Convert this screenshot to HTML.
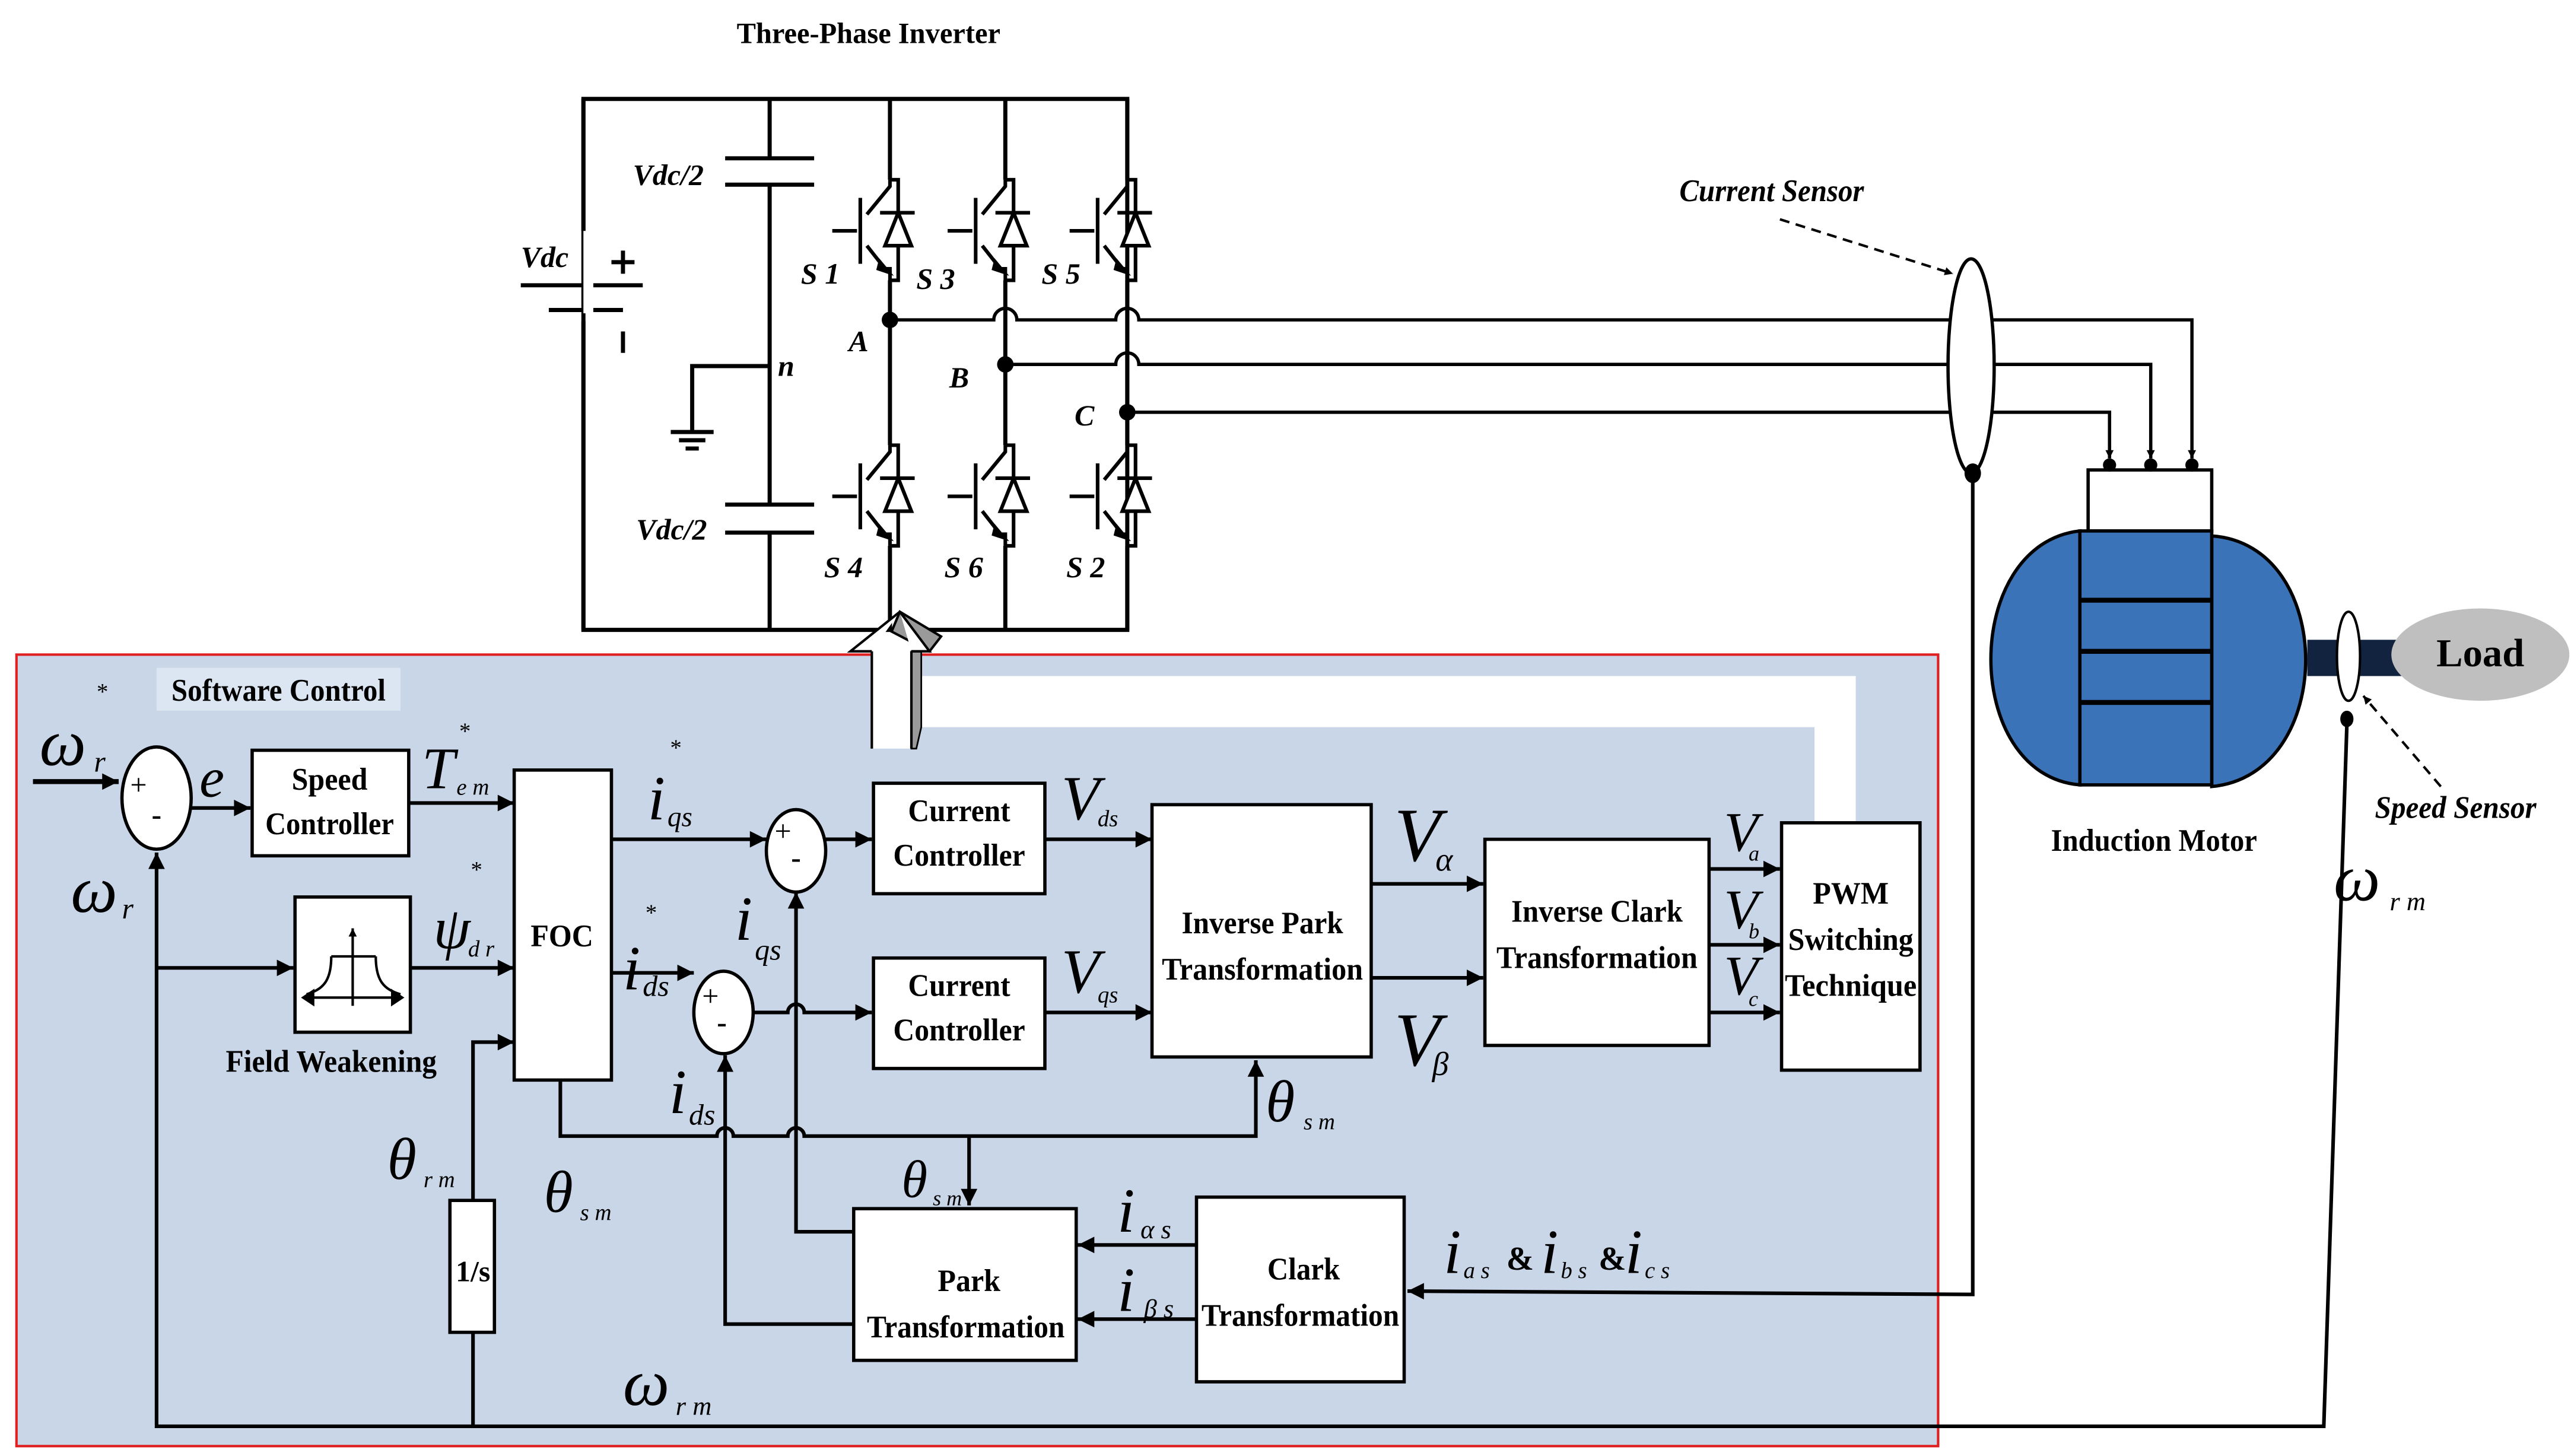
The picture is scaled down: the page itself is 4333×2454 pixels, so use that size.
<!DOCTYPE html>
<html><head><meta charset="utf-8"><style>
html,body{margin:0;padding:0;background:#fff;}
svg{display:block;}
text{font-family:"Liberation Serif",serif;fill:#000;}
.b{font-weight:bold;}
.i{font-style:italic;}
</style></head><body>
<svg width="4333" height="2454" viewBox="0 0 1560 883" preserveAspectRatio="none" xmlns="http://www.w3.org/2000/svg">
<defs>
<marker id="ar" viewBox="0 0 10 10" refX="10" refY="5" markerWidth="5" markerHeight="5" orient="auto" markerUnits="userSpaceOnUse"><path d="M0,0 L10,5 L0,10 z" fill="#000"/></marker>
<marker id="ah" viewBox="0 0 10 10" refX="10" refY="5" markerWidth="12" markerHeight="10" orient="auto" markerUnits="userSpaceOnUse"><path d="M0,0 L10,5 L0,10 z" fill="#000"/></marker>
<g id="sw" fill="none" stroke="#000" stroke-width="2.2">
<path d="M0,0 L0,4 L-14,21"/>
<path d="M-18,11 L-18,51"/>
<path d="M-35,31 L-20,31"/>
<path d="M-14,40 L-3,54 L0,54 L0,61"/>
<path d="M0,0 L5,0 L5,61 L0,61"/>
<path d="M-6,20 L15,20"/>
<path d="M5,20 L-3,40 L13,40 Z" fill="#fff"/>
<path d="M-6,50 L-1,56 L-7,54 Z" fill="#000"/>
</g>
</defs>

<!-- title -->
<text x="527" y="26" class="b" font-size="18" text-anchor="middle" textLength="160" lengthAdjust="spacingAndGlyphs">Three-Phase Inverter</text>

<!-- inverter frame -->
<g fill="none" stroke="#000" stroke-width="2.5">
<path d="M354,60 L684,60 L684,382 L354,382 Z"/>
<path d="M467,60 L467,96 M440,96 L494,96 M440,112 L494,112 M467,112 L467,306 M440,306 L494,306 M440,323 L494,323 M467,323 L467,382"/>
<path d="M420,262 L420,222 L467,222"/>
<path d="M407,262 L433,262 M412,267 L428,267 M416,272 L424,272"/>
<path d="M316,173 L390,173 M333,188 L378,188"/>
<path d="M378,152 L378,166 M371,159 L385,159 M378,201 L378,214"/>
<path d="M540,60 L540,109 M540,170 L540,270 M540,331 L540,382"/>
<path d="M610,60 L610,109 M610,170 L610,270 M610,331 L610,382"/>
<path d="M684,60 L684,109 M684,170 L684,270 M684,331 L684,382"/>
</g>
<rect x="354" y="140" width="6" height="50" fill="#fff"/>
<path d="M354,60 L354,140 M354,195 L354,382" stroke="#000" stroke-width="2.5"/>
<use href="#sw" x="540" y="109"/><use href="#sw" x="610" y="109"/><use href="#sw" x="684" y="109"/>
<use href="#sw" x="540" y="270"/><use href="#sw" x="610" y="270"/><use href="#sw" x="684" y="270"/>

<!-- phase lines -->
<g fill="none" stroke="#000" stroke-width="2">
<path d="M540,194 L603,194 A7,7 0 0 1 617,194 L677,194 A7,7 0 0 1 691,194 L1330,194 L1330,278" marker-end="url(#ar)"/>
<path d="M610,221 L677,221 A7,7 0 0 1 691,221 L1305,221 L1305,278" marker-end="url(#ar)"/>
<path d="M684,250 L1280,250 L1280,278" marker-end="url(#ar)"/>
</g>
<circle cx="540" cy="194" r="5"/><circle cx="610" cy="221" r="5"/><circle cx="684" cy="250" r="5"/>

<g class="b i" font-size="18">
<text x="384" y="112">Vdc/2</text><text x="386" y="327">Vdc/2</text>
<text x="316" y="162">Vdc</text><text x="472" y="228">n</text>
<text x="486" y="172">S 1</text><text x="556" y="175">S 3</text><text x="632" y="172">S 5</text>
<text x="500" y="350">S 4</text><text x="573" y="350">S 6</text><text x="647" y="350">S 2</text>
<text x="515" y="213">A</text><text x="576" y="235">B</text><text x="652" y="258">C</text>
</g>

<!-- current sensor -->
<ellipse cx="1196" cy="222" rx="14" ry="65" fill="#fff" stroke="#000" stroke-width="2"/>
<ellipse cx="1197" cy="287" rx="5" ry="6"/>
<path d="M1080,133 L1185,166" stroke="#000" stroke-width="1.5" stroke-dasharray="6,4" fill="none" marker-end="url(#ar)"/>
<text x="1075" y="122" class="b i" font-size="19" text-anchor="middle" textLength="112" lengthAdjust="spacingAndGlyphs">Current Sensor</text>

<!-- motor -->
<rect x="1267" y="285" width="75" height="37" fill="#fff" stroke="#000" stroke-width="2"/>
<circle cx="1280" cy="282" r="4"/><circle cx="1305" cy="282" r="4"/><circle cx="1330" cy="282" r="4"/>
<path d="M1262,322 C1190,330 1190,470 1262,476 Z" fill="#3a73b8" stroke="#000" stroke-width="2"/>
<path d="M1342,325 C1418,330 1418,470 1342,477 Z" fill="#3a73b8" stroke="#000" stroke-width="2"/>
<rect x="1262" y="322" width="80" height="154" fill="#3a73b8" stroke="#000" stroke-width="2"/>
<path d="M1262,364 L1342,364 M1262,395 L1342,395 M1262,426 L1342,426" stroke="#000" stroke-width="3"/>
<rect x="1400" y="388" width="60" height="22" fill="#12233f"/>
<ellipse cx="1505" cy="397" rx="54" ry="28" fill="#bfbfbf"/>
<text x="1505" y="404" class="b" font-size="24" text-anchor="middle">Load</text>
<ellipse cx="1425" cy="398" rx="7" ry="27" fill="#fff" stroke="#000" stroke-width="1.5"/>
<ellipse cx="1424" cy="436" rx="4" ry="5"/>
<path d="M1481,477 L1434,422" stroke="#000" stroke-width="1.5" stroke-dasharray="6,4" fill="none" marker-end="url(#ar)"/>
<text x="1490" y="496" class="b i" font-size="19" text-anchor="middle" textLength="98" lengthAdjust="spacingAndGlyphs">Speed Sensor</text>
<text x="1307" y="516" class="b" font-size="19" text-anchor="middle" textLength="125" lengthAdjust="spacingAndGlyphs">Induction Motor</text>

<!-- control panel -->
<rect x="10" y="397" width="1166" height="480" fill="#c9d6e8" stroke="#e02020" stroke-width="1.5"/>
<rect x="95" y="405" width="148" height="26" fill="#dce6f2"/>
<text x="169" y="425" class="b" font-size="19" text-anchor="middle" textLength="130" lengthAdjust="spacingAndGlyphs">Software Control</text>

<!-- white band + arrow to inverter -->
<rect x="559" y="410" width="567" height="31" fill="#fff"/>
<rect x="1101" y="410" width="25" height="88" fill="#fff"/>
<path d="M553,395 L559,395 L559,441 L556,454 L553,454 Z" fill="#9a9a9a" stroke="#000" stroke-width="1"/>
<rect x="529" y="395" width="24" height="59" fill="#fff"/>
<path d="M529,395 L529,454 M553,395 L553,454" stroke="#000" stroke-width="1.5"/>
<path d="M546,371 L571,386 L564,395 L541,383 Z" fill="#9a9a9a" stroke="#000" stroke-width="1.5"/>
<path d="M546,371 L516,395 L529,395 M553,395 L564,395 L546,371" fill="#fff" stroke="#000" stroke-width="1.5"/>

<!-- sensor feed lines -->
<g fill="none" stroke="#000" stroke-width="2.2">
<path d="M1197,290 L1197,785 L854,783" marker-end="url(#ah)"/>
<path d="M1424,440 L1410,865 L95,865 L95,517" marker-end="url(#ah)"/>
<path d="M20,474 L72,474" marker-end="url(#ah)" stroke-width="3"/>
<path d="M116,490 L152,490" marker-end="url(#ah)"/>
<path d="M248,487 L312,487" marker-end="url(#ah)"/>
<path d="M95,587 L178,587" marker-end="url(#ah)"/>
<path d="M249,587 L312,587" marker-end="url(#ah)"/>
<path d="M287,865 L287,808 M287,728 L287,632 L312,632" marker-end="url(#ah)"/>
<path d="M340,655 L340,689 L435,689 A5,5 0 0 1 445,689 L478,689 A5,5 0 0 1 488,689 L762,689 L762,643" marker-end="url(#ah)"/>
<path d="M588,689 L588,731" marker-end="url(#ah)"/>
<path d="M371,509 L465,509" marker-end="url(#ah)"/>
<path d="M501,509 L529,509" marker-end="url(#ah)"/>
<path d="M371,590 L421,590" marker-end="url(#ah)"/>
<path d="M457,614 L478,614 A5,5 0 0 1 488,614 L529,614" marker-end="url(#ah)"/>
<path d="M634,509 L699,509" marker-end="url(#ah)"/>
<path d="M634,614 L699,614" marker-end="url(#ah)"/>
<path d="M518,747 L483,747 L483,541" marker-end="url(#ah)"/>
<path d="M518,803 L440,803 L440,640" marker-end="url(#ah)"/>
<path d="M832,536 L900,536" marker-end="url(#ah)"/>
<path d="M832,593 L900,593" marker-end="url(#ah)"/>
<path d="M1037,527 L1080,527" marker-end="url(#ah)"/>
<path d="M1037,573 L1080,573" marker-end="url(#ah)"/>
<path d="M1037,614 L1080,614" marker-end="url(#ah)"/>
<path d="M726,755 L654,755" marker-end="url(#ah)"/>
<path d="M726,800 L654,800" marker-end="url(#ah)"/>
</g>

<!-- sums -->
<g fill="#fff" stroke="#000" stroke-width="2">
<ellipse cx="95" cy="484" rx="21" ry="31"/>
<ellipse cx="483" cy="516" rx="18" ry="25"/>
<ellipse cx="439" cy="614" rx="18" ry="25"/>
</g>
<g font-size="18" font-family="Liberation Sans">
<text x="79" y="482">+</text><text x="92" y="500" class="b">-</text>
<text x="470" y="510">+</text><text x="480" y="526" class="b">-</text>
<text x="426" y="610">+</text><text x="435" y="626" class="b">-</text>
</g>

<!-- blocks -->
<g fill="#fff" stroke="#000" stroke-width="2">
<rect x="153" y="455" width="95" height="64"/>
<rect x="179" y="544" width="70" height="82"/>
<rect x="312" y="467" width="59" height="188"/>
<rect x="530" y="475" width="104" height="67"/>
<rect x="530" y="581" width="104" height="67"/>
<rect x="699" y="488" width="133" height="153"/>
<rect x="901" y="509" width="136" height="125"/>
<rect x="1081" y="499" width="84" height="150"/>
<rect x="273" y="728" width="27" height="80"/>
<rect x="518" y="733" width="135" height="92"/>
<rect x="726" y="726" width="126" height="112"/>
</g>
<!-- field weakening icon -->
<g fill="none" stroke="#000" stroke-width="1.5">
<path d="M214,610 L214,563" marker-end="url(#ar)"/>
<path d="M190,605 L240,605"/>
<path d="M184,605 L190,601 L190,609 Z M244,605 L238,601 L238,609 Z" fill="#000"/>
<path d="M201,580 L228,580 M201,580 C201,595 196,600 186,603 M228,580 C228,595 233,600 243,603"/>
</g>

<g class="b" font-size="19" text-anchor="middle">
<text x="200" y="479" textLength="46" lengthAdjust="spacingAndGlyphs">Speed</text>
<text x="200" y="506" textLength="78" lengthAdjust="spacingAndGlyphs">Controller</text>
<text x="341" y="574" textLength="38" lengthAdjust="spacingAndGlyphs">FOC</text>
<text x="201" y="650" textLength="128" lengthAdjust="spacingAndGlyphs">Field Weakening</text>
<text x="582" y="498" textLength="62" lengthAdjust="spacingAndGlyphs">Current</text>
<text x="582" y="525" textLength="80" lengthAdjust="spacingAndGlyphs">Controller</text>
<text x="582" y="604" textLength="62" lengthAdjust="spacingAndGlyphs">Current</text>
<text x="582" y="631" textLength="80" lengthAdjust="spacingAndGlyphs">Controller</text>
<text x="766" y="566" textLength="98" lengthAdjust="spacingAndGlyphs">Inverse Park</text>
<text x="766" y="594" textLength="122" lengthAdjust="spacingAndGlyphs">Transformation</text>
<text x="969" y="559" textLength="104" lengthAdjust="spacingAndGlyphs">Inverse Clark</text>
<text x="969" y="587" textLength="122" lengthAdjust="spacingAndGlyphs">Transformation</text>
<text x="1123" y="548" textLength="46" lengthAdjust="spacingAndGlyphs">PWM</text>
<text x="1123" y="576" textLength="76" lengthAdjust="spacingAndGlyphs">Switching</text>
<text x="1123" y="604" textLength="80" lengthAdjust="spacingAndGlyphs">Technique</text>
<text x="287" y="777" font-size="18">1/s</text>
<text x="588" y="783" textLength="38" lengthAdjust="spacingAndGlyphs">Park</text>
<text x="586" y="811" textLength="120" lengthAdjust="spacingAndGlyphs">Transformation</text>
<text x="791" y="776" textLength="44" lengthAdjust="spacingAndGlyphs">Clark</text>
<text x="789" y="804" textLength="120" lengthAdjust="spacingAndGlyphs">Transformation</text>
</g>

<!-- math labels -->
<g class="i">
<text x="24" y="464" font-size="40">ω</text><text x="57" y="468" font-size="18">r</text><text x="58" y="424" font-size="14">*</text>
<text x="121" y="483" font-size="34">e</text>
<text x="256" y="478" font-size="36">T</text><text x="277" y="482" font-size="14">e m</text><text x="278" y="448" font-size="14">*</text>
<text x="43" y="553" font-size="40">ω</text><text x="74" y="557" font-size="18">r</text>
<text x="263" y="575" font-size="36">ψ</text><text x="284" y="580" font-size="14">d r</text><text x="285" y="532" font-size="14">*</text>
<text x="393" y="497" font-size="38">i</text><text x="405" y="501" font-size="17">qs</text><text x="406" y="458" font-size="14">*</text>
<text x="378" y="600" font-size="38">i</text><text x="390" y="604" font-size="18">ds</text><text x="391" y="558" font-size="14">*</text>
<text x="446" y="570" font-size="38">i</text><text x="458" y="582" font-size="18">qs</text>
<text x="406" y="675" font-size="38">i</text><text x="418" y="682" font-size="18">ds</text>
<text x="235" y="715" font-size="36">θ</text><text x="257" y="720" font-size="14">r m</text>
<text x="330" y="735" font-size="36">θ</text><text x="352" y="740" font-size="14">s m</text>
<text x="547" y="726" font-size="32">θ</text><text x="566" y="731" font-size="13">s m</text>
<text x="768" y="680" font-size="36">θ</text><text x="791" y="685" font-size="14">s m</text>
<text x="644" y="497" font-size="38">V</text><text x="666" y="501" font-size="14">ds</text>
<text x="644" y="602" font-size="38">V</text><text x="666" y="608" font-size="14">qs</text>
<text x="846" y="522" font-size="46">V</text><text x="871" y="528" font-size="20">α</text>
<text x="846" y="646" font-size="46">V</text><text x="869" y="652" font-size="20">β</text>
<text x="1046" y="516" font-size="34">V</text><text x="1061" y="522" font-size="13">a</text>
<text x="1046" y="563" font-size="34">V</text><text x="1061" y="569" font-size="13">b</text>
<text x="1046" y="603" font-size="34">V</text><text x="1061" y="610" font-size="13">c</text>
<text x="678" y="747" font-size="38">i</text><text x="692" y="751" font-size="16">α s</text>
<text x="678" y="795" font-size="38">i</text><text x="694" y="799" font-size="16">β s</text>
<text x="876" y="772" font-size="38">i</text><text x="888" y="775" font-size="14">a s</text>
<text x="914" y="770" font-size="20" class="b" font-style="normal">&amp;</text>
<text x="935" y="772" font-size="38">i</text><text x="947" y="775" font-size="14">b s</text>
<text x="970" y="770" font-size="20" class="b" font-style="normal">&amp;</text>
<text x="986" y="772" font-size="38">i</text><text x="998" y="775" font-size="14">c s</text>
<text x="378" y="852" font-size="40">ω</text><text x="410" y="858" font-size="16">r m</text>
<text x="1416" y="546" font-size="40">ω</text><text x="1450" y="552" font-size="16">r m</text>
</g>
</svg>
</body></html>
